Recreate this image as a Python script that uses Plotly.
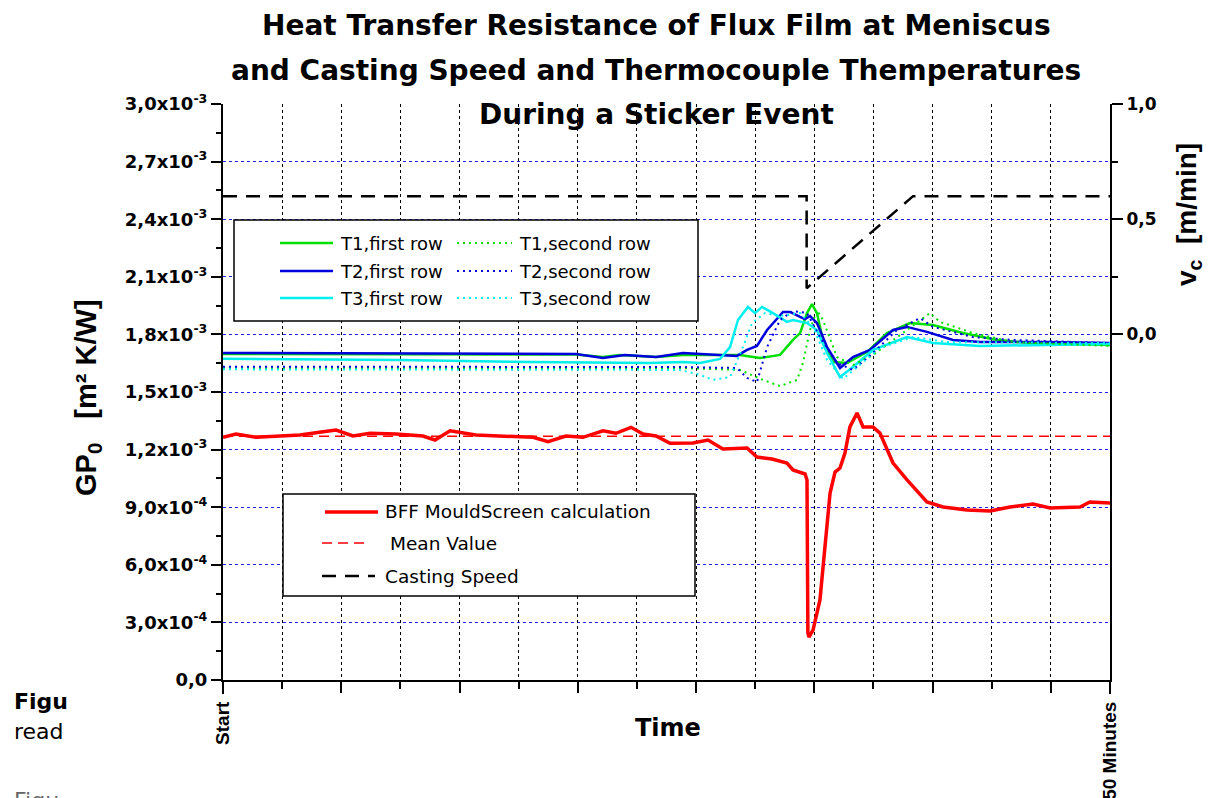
import plotly.graph_objects as go

# ---------------- data ----------------
SCALE = 1e-3  # values below are in 10^-3 m^2 K/W

bff_t = [0, 0.73, 1.86, 2.99, 4.34, 5.64, 6.37, 7.33, 8.29, 9.75, 11.27, 11.95, 12.80, 14.26, 15.95,
         17.48, 18.32, 19.33, 20.29, 21.42, 22.15, 23.00, 23.68, 24.41, 25.20, 25.93, 26.49, 27.34,
         28.18, 29.54, 30.10, 30.95, 31.79, 32.13, 32.81, 32.92, 32.97, 33.03, 33.26, 33.65, 33.93,
         34.22, 34.50, 34.78, 35.06, 35.34, 35.74, 36.08, 36.64, 37.03, 37.77, 38.56, 39.68, 40.59,
         41.94, 43.24, 44.36, 45.66, 46.62, 48.31, 48.87, 50.0]
bff_v = [1.264, 1.281, 1.264, 1.271, 1.276, 1.293, 1.302, 1.271, 1.285, 1.281, 1.271, 1.250, 1.298,
         1.276, 1.271, 1.264, 1.241, 1.271, 1.264, 1.298, 1.285, 1.316, 1.281, 1.271, 1.233, 1.233,
         1.234, 1.250, 1.203, 1.208, 1.161, 1.151, 1.130, 1.094, 1.073, 1.042, 0.245, 0.224, 0.260,
         0.417, 0.677, 0.974, 1.083, 1.104, 1.182, 1.318, 1.391, 1.318, 1.318, 1.286, 1.130, 1.042,
         0.927, 0.901, 0.885, 0.880, 0.901, 0.917, 0.896, 0.901, 0.927, 0.922]

mean_t = [0, 50.0]
mean_v = [1.27, 1.27]

cs_t = [0, 32.9, 32.9, 38.9, 50.0]
cs_v = [0.6, 0.6, 0.2, 0.6, 0.6]

t1f_t = [0, 19.90, 21.42, 22.38, 24.41, 25.93, 29.14, 30.27, 31.40, 32.13, 32.53, 32.92, 33.20, 33.48,
         33.82, 34.39, 35.17, 36.30, 37.43, 38.73, 40.02, 41.71, 43.63, 45.49, 50.0]
t1f_v = [1.698, 1.695, 1.682, 1.693, 1.682, 1.693, 1.693, 1.677, 1.693, 1.771, 1.807, 1.911, 1.958,
         1.911, 1.771, 1.656, 1.651, 1.708, 1.807, 1.859, 1.849, 1.807, 1.771, 1.755, 1.745]

t2f_t = [0, 9.98, 19.90, 21.42, 22.66, 24.41, 25.93, 28.97, 29.54, 30.10, 30.67, 31.57, 31.96, 32.53,
         32.81, 33.09, 33.48, 34.05, 34.78, 35.51, 36.47, 37.77, 38.56, 39.68, 41.15, 42.67, 46.45, 50.0]
t2f_v = [1.703, 1.701, 1.698, 1.677, 1.693, 1.682, 1.703, 1.688, 1.719, 1.740, 1.823, 1.917, 1.917,
         1.891, 1.880, 1.896, 1.859, 1.734, 1.625, 1.682, 1.719, 1.823, 1.839, 1.813, 1.771, 1.760,
         1.760, 1.755]

t3f_t = [0, 9.98, 17.31, 21.25, 24.07, 25.93, 26.89, 28.02, 28.58, 29.03, 29.59, 29.99, 30.38, 31.00,
         31.79, 32.13, 32.92, 33.48, 34.05, 34.78, 35.51, 36.64, 38.56, 40.02, 42.67, 50.0]
t3f_v = [1.673, 1.667, 1.656, 1.651, 1.651, 1.656, 1.651, 1.672, 1.734, 1.875, 1.943, 1.911, 1.943,
         1.911, 1.865, 1.875, 1.859, 1.823, 1.703, 1.578, 1.630, 1.719, 1.786, 1.755, 1.740, 1.750]

t1s_t = [0, 25.76, 29.14, 30.44, 31.40, 32.36, 32.69, 33.09, 33.48, 33.82, 34.61, 35.51, 36.64, 38.16,
         39.85, 40.42, 42.28, 44.53, 50.0]
t1s_v = [1.623, 1.625, 1.615, 1.563, 1.531, 1.563, 1.651, 1.823, 1.927, 1.875, 1.682, 1.641, 1.693,
         1.797, 1.911, 1.865, 1.807, 1.760, 1.740]

t2s_t = [0, 25.76, 28.97, 29.54, 30.10, 30.67, 31.40, 32.13, 32.92, 33.65, 34.61, 35.51, 36.64, 37.99,
         39.29, 40.02, 42.28, 44.53, 50.0]
t2s_v = [1.632, 1.630, 1.625, 1.573, 1.552, 1.734, 1.875, 1.922, 1.911, 1.786, 1.651, 1.615, 1.703,
         1.823, 1.885, 1.839, 1.786, 1.771, 1.755]

t3s_t = [0, 25.76, 26.89, 27.62, 28.58, 29.31, 29.82, 30.55, 31.40, 32.53, 33.26, 34.05, 34.95, 35.74,
         37.03, 38.90, 40.81, 50.0]
t3s_v = [1.618, 1.615, 1.589, 1.563, 1.578, 1.734, 1.859, 1.911, 1.896, 1.911, 1.839, 1.667, 1.568,
         1.630, 1.729, 1.786, 1.760, 1.755]

# axis ticks
x_label_vals = [0.0, 50.0]
x_label_text = ["Start", "50 Minutes"]
x_major_inner = [k * 50 / 15 for k in range(2, 15, 2)]
x_minor = [k * 50 / 15 for k in range(1, 15, 2)]

y_major = [k * 0.3e-3 for k in range(11)]
y_text = ["0,0", "3,0x10<sup>-4</sup>", "6,0x10<sup>-4</sup>", "9,0x10<sup>-4</sup>",
          "1,2x10<sup>-3</sup>", "1,5x10<sup>-3</sup>", "1,8x10<sup>-3</sup>", "2,1x10<sup>-3</sup>",
          "2,4x10<sup>-3</sup>", "2,7x10<sup>-3</sup>", "3,0x10<sup>-3</sup>"]
y_minor = [(k + 0.5) * 0.3e-3 for k in range(10)]

y2_major = [0.0, 0.5, 1.0]
y2_text = ["0,0", "0,5", "1,0"]
y2_minor = [0.25, 0.75]

# ---------------- styling ----------------
GREEN = "#00e000"
BLUE = "#0000dd"
CYAN = "#00f0f0"
RED = "#ff0000"
DJ = "DejaVu Sans"
AR = "Liberation Sans"

L, R, T, B = 223, 1110, 104, 680
W, H = 1209, 798


def px(x):
    return (x - L) / (R - L)


def py(y):
    return (B - y) / (B - T)


def sc(v):
    return [a * SCALE for a in v]


fig = go.Figure()

series = [
    (t1f_t, t1f_v, GREEN, "solid", 2.5),
    (t2f_t, t2f_v, BLUE, "solid", 2.5),
    (t3f_t, t3f_v, CYAN, "solid", 2.5),
    (t1s_t, t1s_v, GREEN, "2px,4px", 2),
    (t2s_t, t2s_v, BLUE, "2px,4px", 2),
    (t3s_t, t3s_v, CYAN, "2px,4px", 2),
]
for tt, vv, col, dash, w in series:
    fig.add_trace(go.Scatter(x=tt, y=sc(vv), mode="lines", showlegend=False,
                             line=dict(color=col, width=w, dash=dash), hoverinfo="skip"))

fig.add_trace(go.Scatter(x=mean_t, y=sc(mean_v), mode="lines", showlegend=False,
                         line=dict(color=RED, width=1.5, dash="10px,6px")))
fig.add_trace(go.Scatter(x=bff_t, y=sc(bff_v), mode="lines", showlegend=False,
                         line=dict(color=RED, width=3.5)))
fig.add_trace(go.Scatter(x=cs_t, y=cs_v, mode="lines", showlegend=False, yaxis="y2",
                         line=dict(color="black", width=2.5, dash="14px,9px")))

tickfont_b = dict(family=AR, size=19, color="black", weight="bold")

fig.update_layout(
    width=W, height=H,
    margin=dict(l=L, r=W - R, t=T, b=H - B, pad=0),
    paper_bgcolor="white", plot_bgcolor="white",
    xaxis=dict(range=[0, 50], showline=True, linecolor="black", linewidth=2, automargin=False,
               ticks="outside", ticklen=12, tickwidth=2, tickcolor="black",
               tickmode="array", tickvals=x_label_vals, ticktext=x_label_text, tickangle=-90,
               tickfont=tickfont_b,
               showgrid=True, gridcolor="black", griddash="dot", gridwidth=1, zeroline=False,
               minor=dict(tickmode="array", tickvals=x_minor, ticks="outside", ticklen=7,
                          tickwidth=2, tickcolor="black", showgrid=True, gridcolor="black",
                          griddash="dot", gridwidth=1)),
    xaxis2=dict(range=[0, 50], overlaying="x", side="bottom", anchor="y", automargin=False,
                showline=False, ticks="outside", ticklen=12, tickwidth=2, tickcolor="black",
                tickmode="array", tickvals=x_major_inner, showticklabels=False,
                showgrid=True, gridcolor="black", griddash="dot", gridwidth=1, zeroline=False),
    yaxis=dict(range=[0, 3.0e-3], showline=True, linecolor="black", linewidth=2, automargin=False,
               ticks="outside", ticklen=10, tickwidth=2, tickcolor="black",
               tickmode="array", tickvals=y_major, ticktext=y_text,
               tickfont=dict(family=DJ, size=18, color="black", weight="bold"),
               showgrid=True, gridcolor="#2020ff", griddash="dot", gridwidth=1, zeroline=False,
               minor=dict(tickmode="array", tickvals=y_minor, ticks="outside", ticklen=5,
                          tickwidth=2, tickcolor="black", showgrid=False)),
    yaxis2=dict(range=[-1.5, 1.0], overlaying="y", side="right", anchor="x", automargin=False,
                showline=True, linecolor="black", linewidth=2,
                ticks="outside", ticklen=11, tickwidth=2, tickcolor="black",
                tickmode="array", tickvals=y2_major, ticktext=y2_text,
                tickfont=dict(family=DJ, size=17, color="black", weight="bold"),
                showgrid=False, zeroline=False,
                minor=dict(tickmode="array", tickvals=y2_minor, ticks="outside", ticklen=6,
                           tickwidth=2, tickcolor="black", showgrid=False)),
)

# invisible helper trace so that the second x axis (long inner ticks) is drawn
fig.add_trace(go.Scatter(x=[0, 50], y=[None, None], xaxis="x2", mode="lines",
                         showlegend=False, hoverinfo="skip"))

ann = []
shapes = []

# title lines
title_lines = [("Heat Transfer Resistance of Flux Film at Meniscus", 25),
               ("and Casting Speed and Thermocouple Themperatures", 70),
               ("During a Sticker Event", 114)]
for txt, yy in title_lines:
    ann.append(dict(text=txt, x=px(656), y=py(yy), xref="paper", yref="paper",
                    xanchor="center", yanchor="middle", showarrow=False,
                    font=dict(family=DJ, size=28, color="black", weight="bold")))

# axis titles
ann.append(dict(text="GP<sub>0</sub>\u00a0\u00a0\u00a0[m² K/W]", x=px(88), y=py(398),
                xref="paper", yref="paper", xanchor="center", yanchor="middle",
                textangle=-90, showarrow=False,
                font=dict(family=AR, size=29, color="black", weight="bold")))
ann.append(dict(text="v<sub>c</sub>\u00a0\u00a0[m/min]", x=px(1188), y=py(215),
                xref="paper", yref="paper", xanchor="center", yanchor="middle",
                textangle=-90, showarrow=False,
                font=dict(family=AR, size=28, color="black", weight="bold")))
ann.append(dict(text="Time", x=px(668), y=py(728), xref="paper", yref="paper",
                xanchor="center", yanchor="middle", showarrow=False,
                font=dict(family=DJ, size=24, color="black", weight="bold")))

# background page text fragments
ann.append(dict(text="Figu", x=px(12), y=py(701), xref="paper", yref="paper",
                xanchor="left", yanchor="middle", showarrow=False,
                font=dict(family=DJ, size=22, color="black", weight="bold")))
ann.append(dict(text="read", x=px(12), y=py(731), xref="paper", yref="paper",
                xanchor="left", yanchor="middle", showarrow=False,
                font=dict(family=DJ, size=22, color="black")))
ann.append(dict(text="Figu", x=px(12), y=py(800), xref="paper", yref="paper",
                xanchor="left", yanchor="middle", showarrow=False,
                font=dict(family=DJ, size=22, color="#666666")))

# legend 1 (thermocouples)
shapes.append(dict(type="rect", xref="paper", yref="paper", x0=px(234), x1=px(698),
                   y0=py(321), y1=py(220), line=dict(color="black", width=1.5),
                   fillcolor="white", layer="above"))
leg1 = [("T1,first row", GREEN, "solid", 280, 333, 338, 243),
        ("T2,first row", BLUE, "solid", 280, 333, 338, 271),
        ("T3,first row", CYAN, "solid", 280, 333, 338, 298),
        ("T1,second row", GREEN, "2px,4px", 457, 512, 517, 243),
        ("T2,second row", BLUE, "2px,4px", 457, 512, 517, 271),
        ("T3,second row", CYAN, "2px,4px", 457, 512, 517, 298)]
for txt, col, dash, xa, xb, xt, yy in leg1:
    shapes.append(dict(type="line", xref="paper", yref="paper", x0=px(xa), x1=px(xb),
                       y0=py(yy), y1=py(yy),
                       line=dict(color=col, width=2.5 if dash == "solid" else 2, dash=dash),
                       layer="above"))
    ann.append(dict(text=txt, x=px(xt), y=py(yy), xref="paper", yref="paper",
                    xanchor="left", yanchor="middle", showarrow=False,
                    font=dict(family=DJ, size=18, color="black")))

# legend 2
shapes.append(dict(type="rect", xref="paper", yref="paper", x0=px(283), x1=px(695),
                   y0=py(596), y1=py(494), line=dict(color="black", width=1.5),
                   fillcolor="white", layer="above"))
leg2 = [("BFF MouldScreen calculation", RED, "solid", 3.5, 325, 378, 383, 512),
        ("Mean Value", RED, "10px,6px", 1.5, 322, 370, 388, 543),
        ("Casting Speed", "black", "14px,9px", 2.5, 322, 375, 383, 576)]
for txt, col, dash, w, xa, xb, xt, yy in leg2:
    shapes.append(dict(type="line", xref="paper", yref="paper", x0=px(xa), x1=px(xb),
                       y0=py(yy), y1=py(yy), line=dict(color=col, width=w, dash=dash),
                       layer="above"))
    ann.append(dict(text=txt, x=px(xt), y=py(yy), xref="paper", yref="paper",
                    xanchor="left", yanchor="middle", showarrow=False,
                    font=dict(family=DJ, size=18.5, color="black")))

fig.update_layout(annotations=ann, shapes=shapes)
fig.write_html("out.html")
